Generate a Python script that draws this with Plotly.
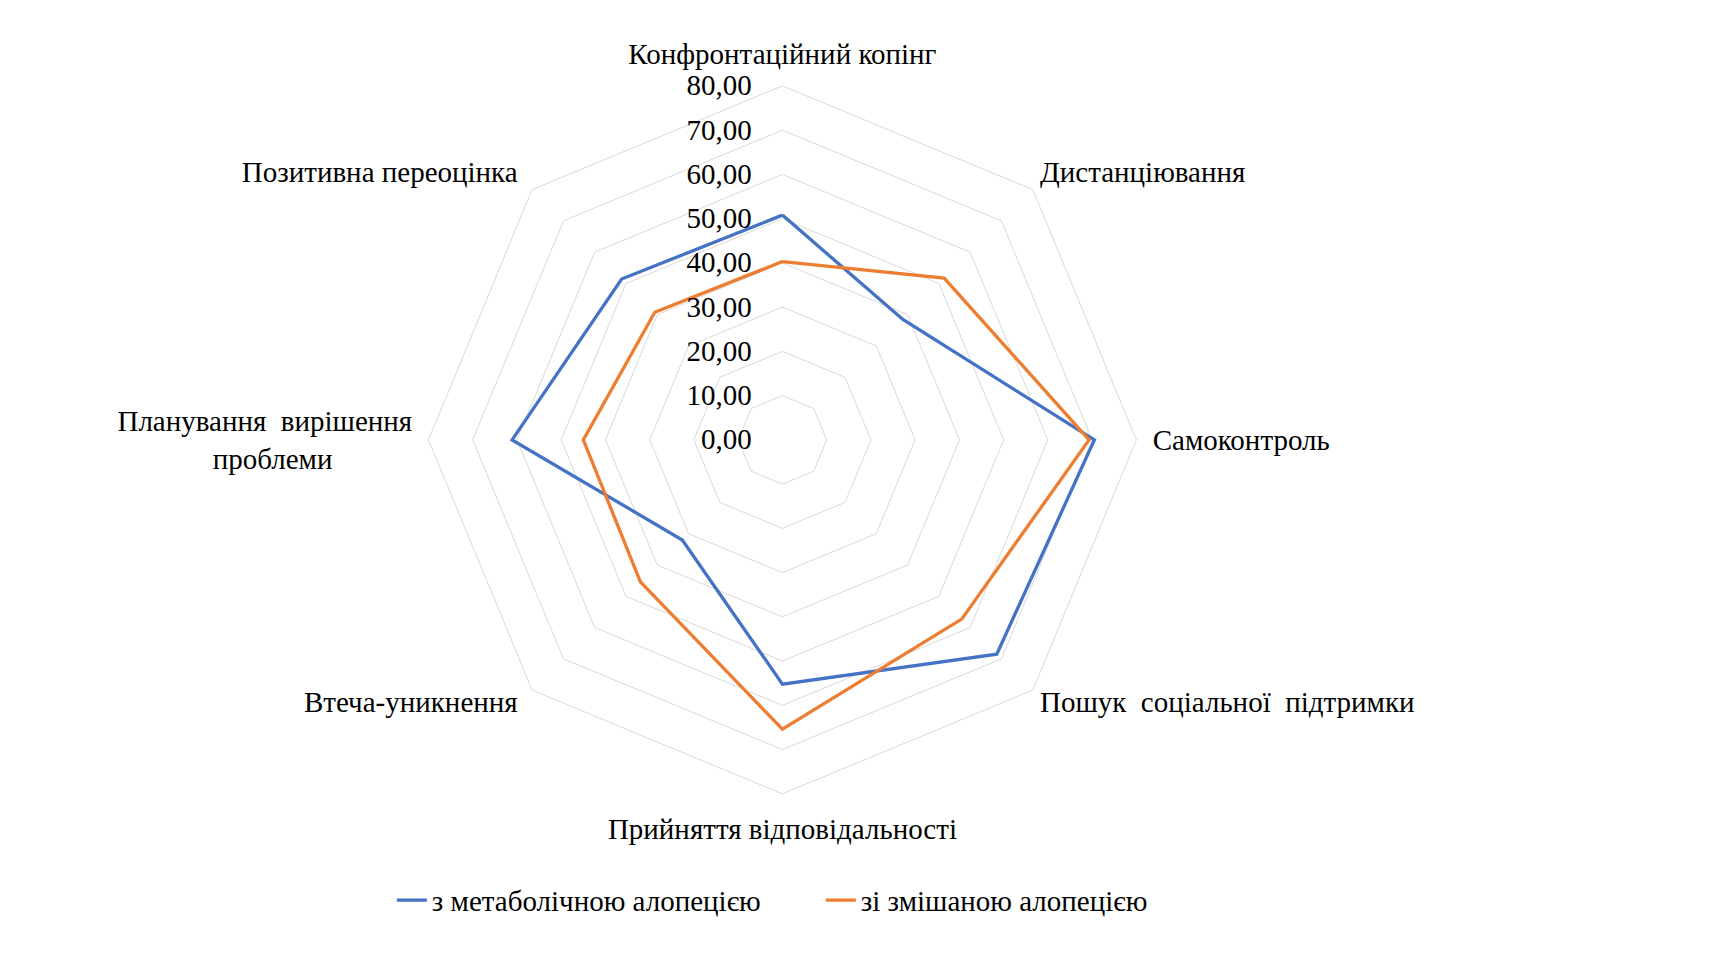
import plotly.graph_objects as go

# categories clockwise from the top
categories = [
    "Конфронтаційний копінг",
    "Дистанціювання",
    "Самоконтроль",
    "Пошук соціальної підтримки",
    "Прийняття відповідальності",
    "Втеча-уникнення",
    "Планування вирішення проблеми",
    "Позитивна переоцінка",
]
# label text as it is laid out on the chart ("" = drawn beside the corner instead)
axis_labels = [
    "Конфронтаційний копінг",
    "",
    "Самоконтроль",
    "",
    "Прийняття відповідальності",
    "",
    "Планування  вирішення<br>проблеми" + "\u00a0" * 11,
    "",
]
corner_labels = ["\u00a0Дистанціювання", "\u00a0Пошук  соціальної  підтримки",
                 "Втеча-уникнення\u00a0\u00a0", "Позитивна переоцінка\u00a0\u00a0"]
corner_cats = [categories[1], categories[3], categories[5], categories[7]]
corner_pos = ["top right", "bottom right", "bottom left", "top left"]

metabolic = [50.8, 38.5, 70.5, 68.5, 55.2, 32.0, 61.1, 51.4]
mixed = [40.3, 51.7, 69.3, 57.3, 65.4, 45.4, 45.0, 40.8]

series_names = ["з метаболічною алопецією", "зі змішаною алопецією"]
radial_ticks = [0, 10, 20, 30, 40, 50, 60, 70, 80]
r_max = 80

BLUE = "#4472C4"
ORANGE = "#ED7D31"
GRID = "#D9D9D9"
FONT = "Liberation Serif, Times New Roman, serif"

fig = go.Figure()
for name, vals, col in [(series_names[0], metabolic, BLUE), (series_names[1], mixed, ORANGE)]:
    fig.add_trace(go.Scatterpolar(
        r=vals + vals[:1],
        theta=categories + categories[:1],
        mode="lines",
        name=name,
        line=dict(color=col, width=3.3),
    ))

# diagonal category names sit just beside the outer corners
fig.add_trace(go.Scatterpolar(
    r=[r_max] * len(corner_cats),
    theta=corner_cats,
    mode="text",
    text=corner_labels,
    textposition=corner_pos,
    textfont=dict(family=FONT, size=29, color="black"),
    cliponaxis=False,
    showlegend=False,
    hoverinfo="skip",
))

fig.update_layout(
    width=1709, height=956,
    paper_bgcolor="white",
    plot_bgcolor="white",
    margin=dict(l=0, r=0, t=0, b=0),
    separators=", ",
    font=dict(family=FONT, size=29, color="black"),
    polar=dict(
        domain=dict(x=[0.2460, 0.6603], y=[0.1780, 0.9185]),
        gridshape="linear",
        bgcolor="white",
        radialaxis=dict(
            range=[0, r_max],
            tickvals=radial_ticks,
            tickformat=".2f",
            angle=90,
            tickangle=90,
            side="counterclockwise",
            showline=False,
            ticks="outside",
            ticklen=20,
            tickcolor="rgba(0,0,0,0)",
            gridcolor=GRID,
            gridwidth=1,
        ),
        angularaxis=dict(
            rotation=90,
            direction="clockwise",
            tickmode="array",
            tickvals=categories,
            ticktext=axis_labels,
            showgrid=False,
            showline=True,
            linecolor=GRID,
            linewidth=1,
            ticks="outside",
            ticklen=10,
            tickcolor="rgba(0,0,0,0)",
        ),
    ),
    legend=dict(
        orientation="h",
        x=0.2246, xanchor="left",
        y=0.0666, yanchor="middle",
        font=dict(size=29),
        itemwidth=30,
        entrywidth=384,
    ),
)

fig.write_html("out.html")
